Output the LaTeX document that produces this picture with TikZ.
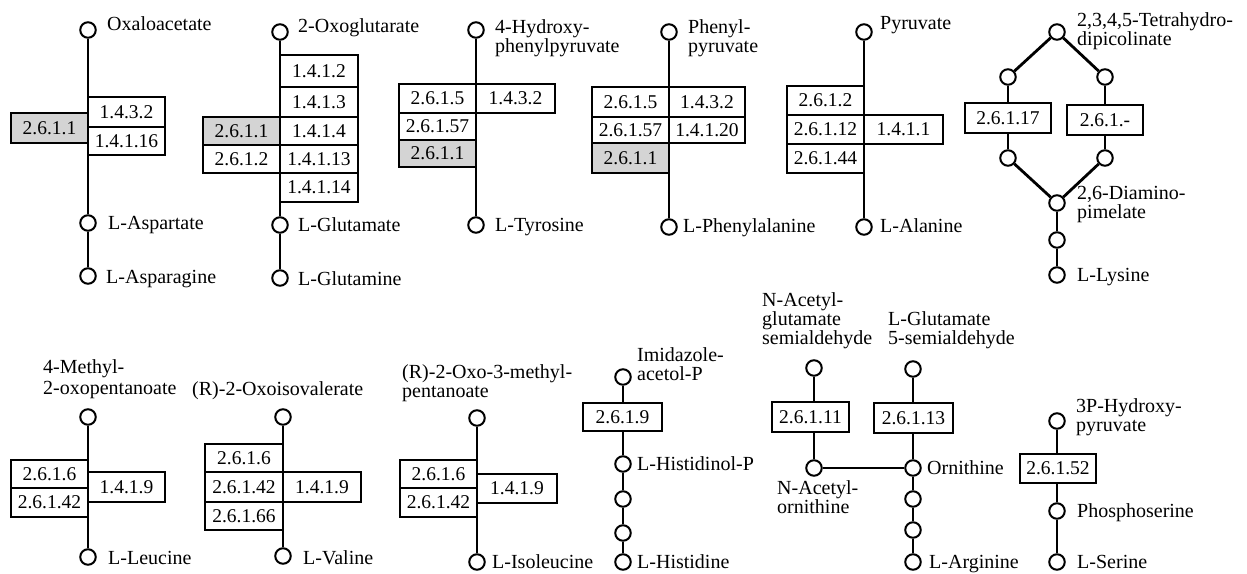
\documentclass[tikz,border=0pt]{standalone}
\usepackage{fontspec}
\setmainfont{Liberation Serif}
\usetikzlibrary{backgrounds}
\newcommand\lfont{\fontsize{20}{19}\selectfont}
\newcommand\bfontx{\fontsize{19.5}{19}\selectfont}
\newcommand\ecbox[7][]{\node[ec,#1,minimum width={(#4-#3)*1pt},minimum height={(#6-#5)*1pt}] (#2) at ({(#3+#4)/2},{(#5+#6)/2}) {#7};}
\tikzset{
  ec/.style={draw, line width=1.8pt, fill=white, inner sep=0pt, font=\bfontx},
  sh/.style={fill=black!17},
  mc/.style={circle, draw, line width=2pt, fill=white, minimum size=15.5pt, inner sep=0pt},
  lab/.style={anchor=base west, inner sep=0pt, align=left, font=\lfont},
  ln/.style={line width=1.8pt},
  tk/.style={line width=2.8pt},
}
\begin{document}
\begin{tikzpicture}[x=1pt,y=-1pt]
\useasboundingbox (0,0) rectangle (1247,573);
% ---------- Panel 1 : Aspartate
\node[mc] (c1t) at (88,30) {};
\node[mc] (c1a) at (88,223) {};
\node[mc] (c1b) at (88,276) {};
\node[lab] (l1t) at (107,30) {Oxaloacetate};
\node[lab] (l1a) at (108,229) {L-Aspartate};
\node[lab] (l1b) at (106,283) {L-Asparagine};
\ecbox[sh]{b1a}{11}{88}{113}{143}{2.6.1.1}
\ecbox{b1b}{88}{165}{97}{127}{1.4.3.2}
\ecbox{b1c}{88}{165}{127}{155}{1.4.1.16}
% ---------- Panel 2 : Glutamate
\node[mc] (c2t) at (280,32) {};
\node[mc] (c2a) at (280,225) {};
\node[mc] (c2b) at (280,278) {};
\node[lab] (l2t) at (298,32) {2-Oxoglutarate};
\node[lab] (l2a) at (298,231) {L-Glutamate};
\node[lab] (l2b) at (298,285) {L-Glutamine};
\ecbox{b2a}{280}{358}{55}{87}{1.4.1.2}
\ecbox{b2b}{280}{358}{87}{117}{1.4.1.3}
\ecbox{b2c}{280}{358}{117}{145}{1.4.1.4}
\ecbox{b2d}{280}{358}{145}{173}{1.4.1.13}
\ecbox{b2e}{280}{358}{173}{202}{1.4.1.14}
\ecbox[sh]{b2f}{203}{280}{117}{145}{2.6.1.1}
\ecbox{b2g}{203}{280}{145}{173}{2.6.1.2}
% ---------- Panel 3 : Tyrosine
\node[mc] (c3t) at (476,30) {};
\node[mc] (c3a) at (476,225) {};
\node[lab] (l3t) at (495,52) {4-Hydroxy-\\phenylpyruvate};
\node[lab] (l3a) at (495,231) {L-Tyrosine};
\ecbox{b3a}{399}{476}{84}{113}{2.6.1.5}
\ecbox{b3b}{399}{476}{113}{140}{2.6.1.57}
\ecbox[sh]{b3c}{399}{476}{140}{167}{2.6.1.1}
\ecbox{b3d}{476}{555}{84}{113}{1.4.3.2}
% ---------- Panel 4 : Phenylalanine
\node[mc] (c4t) at (669,32) {};
\node[mc] (c4a) at (669,227) {};
\node[lab] (l4t) at (688,52) {Phenyl-\\pyruvate};
\node[lab] (l4a) at (683,232) {L-Phenylalanine};
\ecbox{b4a}{592}{669}{87}{117}{2.6.1.5}
\ecbox{b4b}{592}{669}{117}{143}{2.6.1.57}
\ecbox[sh]{b4c}{592}{669}{143}{173}{2.6.1.1}
\ecbox{b4d}{669}{745}{87}{117}{1.4.3.2}
\ecbox{b4e}{669}{745}{117}{143}{1.4.1.20}
% ---------- Panel 5 : Alanine
\node[mc] (c5t) at (864,32) {};
\node[mc] (c5a) at (864,227) {};
\node[lab] (l5t) at (880,29) {Pyruvate};
\node[lab] (l5a) at (880,232) {L-Alanine};
\ecbox{b5a}{787}{864}{86}{115}{2.6.1.2}
\ecbox{b5b}{787}{864}{115}{144}{2.6.1.12}
\ecbox{b5c}{787}{864}{144}{173}{2.6.1.44}
\ecbox{b5d}{864}{943}{115}{144}{1.4.1.1}
% ---------- Panel 6 : Lysine
\node[mc] (c6t) at (1057,32) {};
\node[mc] (c6l) at (1008,77) {};
\node[mc] (c6r) at (1105,77) {};
\node[mc] (c6p) at (1008,158) {};
\node[mc] (c6q) at (1105,158) {};
\node[mc] (c6d) at (1057,203) {};
\node[mc] (c6m) at (1057,240) {};
\node[mc] (c6k) at (1057,275) {};
\node[lab] (l6t) at (1077,45) {2,3,4,5-Tetrahydro-\\dipicolinate};
\node[lab] (l6d) at (1077,218) {2,6-Diamino-\\pimelate};
\node[lab] (l6k) at (1077,281) {L-Lysine};
\ecbox{b6a}{965}{1051}{103}{133}{2.6.1.17}
\ecbox{b6b}{1067}{1143}{105}{135}{2.6.1.-}
% ---------- Panel 7 : Leucine
\node[mc] (c7t) at (88,417) {};
\node[mc] (c7a) at (88,557) {};
\node[lab] (l7t) at (43,394) {4-Methyl-\\[2pt]2-oxopentanoate};
\node[lab] (l7a) at (108,564) {L-Leucine};
\ecbox{b7a}{11}{88}{460}{488}{2.6.1.6}
\ecbox{b7b}{11}{88}{488}{517}{2.6.1.42}
\ecbox{b7c}{88}{165}{472}{502}{1.4.1.9}
% ---------- Panel 8 : Valine
\node[mc] (c8t) at (283,417) {};
\node[mc] (c8a) at (283,556) {};
\node[lab] (l8t) at (192,395) {(R)-2-Oxoisovalerate};
\node[lab] (l8a) at (303,564) {L-Valine};
\ecbox{b8a}{205}{283}{444}{472}{2.6.1.6}
\ecbox{b8b}{205}{283}{472}{502}{2.6.1.42}
\ecbox{b8c}{205}{283}{502}{530}{2.6.1.66}
\ecbox{b8d}{283}{361}{472}{502}{1.4.1.9}
% ---------- Panel 9 : Isoleucine
\node[mc] (c9t) at (477,418) {};
\node[mc] (c9a) at (477,562) {};
\node[lab] (l9t) at (402,397) {(R)-2-Oxo-3-methyl-\\pentanoate};
\node[lab] (l9a) at (492,568) {L-Isoleucine};
\ecbox{b9a}{400}{477}{460}{488}{2.6.1.6}
\ecbox{b9b}{400}{477}{488}{517}{2.6.1.42}
\ecbox{b9c}{477}{557}{474}{503}{1.4.1.9}
% ---------- Panel 10 : Histidine
\node[mc] (c10t) at (623,377) {};
\node[mc] (c10a) at (623,464) {};
\node[mc] (c10b) at (623,499) {};
\node[mc] (c10c) at (623,533) {};
\node[mc] (c10d) at (623,562) {};
\node[lab] (l10t) at (637,380) {Imidazole-\\acetol-P};
\node[lab] (l10a) at (637,470) {L-Histidinol-P};
\node[lab] (l10d) at (637,568) {L-Histidine};
\ecbox{b10a}{583}{662}{403}{431}{2.6.1.9}
% ---------- Panel 11 : Arginine
\node[mc] (c11t) at (814,368) {};
\node[mc] (c11a) at (814,468) {};
\node[mc] (c12t) at (913,369) {};
\node[mc] (c12a) at (913,468) {};
\node[mc] (c12b) at (913,499) {};
\node[mc] (c12c) at (913,530) {};
\node[mc] (c12d) at (913,562) {};
\node[lab] (l11t) at (762,344) {N-Acetyl-\\glutamate\\semialdehyde};
\node[lab] (l12t) at (888,344) {L-Glutamate\\5-semialdehyde};
\node[lab] (l11a) at (777,513) {N-Acetyl-\\ornithine};
\node[lab] (l12a) at (927,474) {Ornithine};
\node[lab] (l12d) at (929,568) {L-Arginine};
\ecbox{b11a}{772}{849}{402}{432}{2.6.1.11}
\ecbox{b12a}{874}{953}{403}{433}{2.6.1.13}
% ---------- Panel 12 : Serine
\node[mc] (c13t) at (1057,421) {};
\node[mc] (c13a) at (1057,511) {};
\node[mc] (c13b) at (1057,562) {};
\node[lab] (l13t) at (1076,431) {3P-Hydroxy-\\pyruvate};
\node[lab] (l13a) at (1077,517) {Phosphoserine};
\node[lab] (l13b) at (1077,568) {L-Serine};
\ecbox{b13a}{1020}{1096}{454}{483}{2.6.1.52}
% ---------- connectors
\begin{scope}[on background layer]
\fill[white] (0,0) rectangle (1247,573);
\draw[ln] (c1t) -- (c1a);
\draw[ln] (c1a) -- (c1b);
\draw[ln] (c2t) -- (c2a);
\draw[ln] (c2a) -- (c2b);
\draw[ln] (c3t) -- (c3a);
\draw[ln] (c4t) -- (c4a);
\draw[tk] (c5t) -- (c5a);
\draw[tk] (c6t) -- (c6l);
\draw[tk] (c6t) -- (c6r);
\draw[ln] (c6l) -- (c6p);
\draw[ln] (c6r) -- (c6q);
\draw[tk] (c6p) -- (c6d);
\draw[tk] (c6q) -- (c6d);
\draw[tk] (c6d) -- (c6m);
\draw[tk] (c6m) -- (c6k);
\draw[ln] (c7t) -- (c7a);
\draw[ln] (c8t) -- (c8a);
\draw[ln] (c9t) -- (c9a);
\draw[ln] (c10t) -- (c10a);
\draw[ln] (c10a) -- (c10b);
\draw[ln] (c10b) -- (c10c);
\draw[ln] (c10c) -- (c10d);
\draw[ln] (c11t) -- (c11a);
\draw[tk] (c11a) -- (c12a);
\draw[ln] (c12t) -- (c12a);
\draw[ln] (c12a) -- (c12b);
\draw[ln] (c12b) -- (c12c);
\draw[ln] (c12c) -- (c12d);
\draw[ln] (c13t) -- (c13a);
\draw[ln] (c13a) -- (c13b);
\end{scope}
\end{tikzpicture}
\end{document}
